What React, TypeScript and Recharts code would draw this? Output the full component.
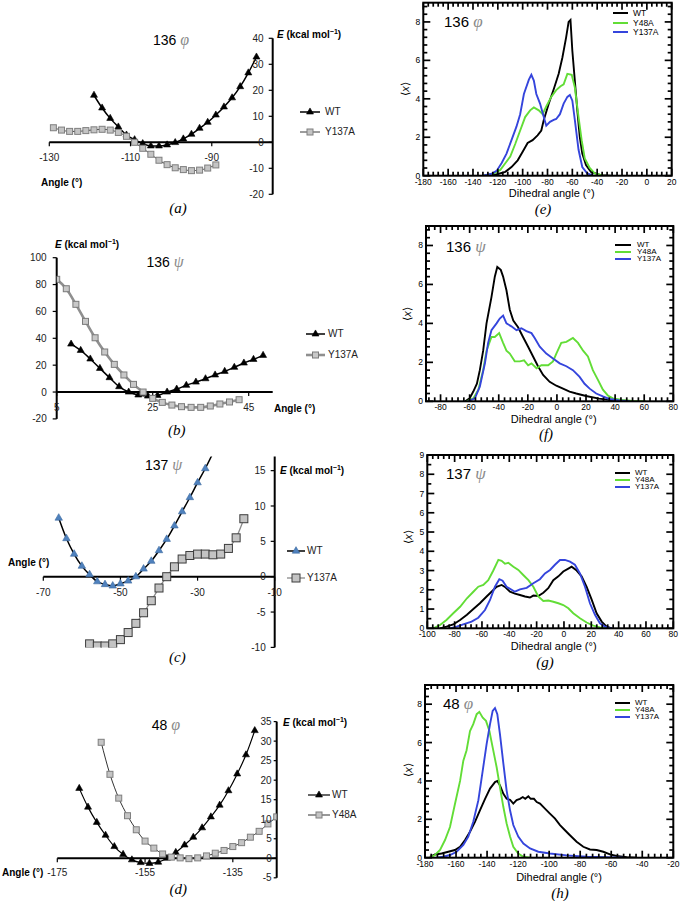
import React from 'react';
import { LineChart, Line, XAxis, YAxis, ReferenceLine, Legend } from 'recharts';

const FONT = '"Liberation Sans", Arial, Helvetica, sans-serif';
const SERIF = '"Liberation Serif", "Times New Roman", serif';
const GREEN = '#62dd36';
const BLUE = '#3545dc';

// ---- (a) 136 phi, energy scan (kcal/mol)
const aWtAngle = [-119, -117, -115, -113, -111, -109, -107, -105, -103, -101, -99, -97, -95, -93, -91, -89, -87, -85, -83, -81, -79];
const aWtEnergy = [18.1, 13.2, 9.2, 5.9, 2.8, 1.0, -0.5, -1.4, -1.4, -1.0, -0.1, 1.3, 3.1, 5.4, 7.7, 10.5, 13.6, 17.1, 21.4, 26.7, 32.8];
const aMutAngle = [-129, -127, -125, -123, -121, -119, -117, -115, -113, -111, -109, -107, -105, -103, -101, -99, -97, -95, -93, -91, -89];
const aMutEnergy = [5.6, 4.7, 4.2, 4.2, 4.5, 4.8, 5.0, 4.7, 3.8, 2.3, 0, -2.3, -4.6, -6.9, -8.6, -9.8, -10.5, -10.9, -10.7, -9.9, -8.7];
const aXTicks = [-130, -110, -90];
const aYTicks = [-20, -10, 0, 10, 20, 30, 40];

// ---- (b) 136 psi
const bWtAngle = [8, 10, 12, 14, 16, 18, 20, 22, 24, 26, 28, 30, 32, 34, 36, 38, 40, 42, 44, 46, 48];
const bWtEnergy = [35.7, 31, 24.6, 17.6, 10.7, 4.0, 0, -2.2, -3.0, -2.5, 0, 2.2, 5.0, 7.4, 9.9, 12.7, 15.4, 18.4, 21.6, 24.3, 27.3];
const bMutAngle = [5, 7, 9, 11, 13, 15, 17, 19, 21, 23, 25, 27, 29, 31, 33, 35, 37, 39, 41, 43];
const bMutEnergy = [83.9, 76.9, 65.3, 52.6, 40.4, 29.8, 20.6, 12.7, 5.7, 0, -4.7, -7.7, -9.7, -10.9, -11.4, -11.4, -10.4, -8.9, -7.4, -5.7];
const bXTicks = [5, 25, 45];
const bYTicks = [-20, 0, 20, 40, 60, 80, 100];

// ---- (c) 137 psi
const cWtAngle = [-66, -64, -62, -60, -58, -56, -54, -52, -50, -48, -46, -44, -42, -40, -38, -36, -34, -32, -30, -28, -26];
const cWtEnergy = [8.3, 5.4, 3.2, 1.5, 0.3, -0.7, -1.1, -1.3, -1.0, -0.6, 0, 1.1, 2.2, 3.7, 5.3, 7.2, 9.2, 11.2, 13.3, 15.3, 17.5];
const cMutAngle = [-58, -56, -54, -52, -50, -48, -46, -44, -42, -40, -38, -36, -34, -32, -30, -28, -26, -24, -22, -20, -18];
const cMutEnergy = [-9.5, -9.8, -9.8, -9.5, -8.9, -7.9, -6.6, -5.1, -3.4, -1.6, 0, 1.4, 2.5, 3.0, 3.2, 3.2, 3.1, 3.2, 4.0, 5.5, 8.2];
const cXTicks = [-70, -50, -30, -10];
const cYTicks = [-10, -5, 0, 5, 10, 15];

// ---- (d) 48 phi
const dWtAngle = [-170, -168, -166, -164, -162, -160, -158, -156, -154, -152, -150, -148, -146, -144, -142, -140, -138, -136, -134, -132, -130];
const dWtEnergy = [17.9, 13.1, 9.2, 5.9, 3.0, 1.0, -0.4, -1.1, -1.3, -1.0, 0, 1.5, 3.4, 5.4, 7.8, 10.6, 13.6, 17.3, 21.6, 26.5, 32.7];
const dMutAngle = [-165, -163, -161, -159, -157, -155, -153, -151, -149, -147, -145, -143, -141, -139, -137, -135, -133, -131, -129, -127, -125];
const dMutEnergy = [29.7, 21.5, 15.4, 10.9, 7.3, 4.4, 2.6, 1.1, 0.3, 0.1, -0.1, 0.1, 0.6, 1.3, 2.0, 3.0, 4.0, 5.4, 6.9, 8.8, 10.6];
const dXTicks = [-175, -155, -135];
const dYTicks = [-5, 0, 5, 10, 15, 20, 25, 30, 35];

// ---- (e) 136 phi distributions
const eWtX = [-130, -122, -114, -109, -104, -100, -96, -92, -88, -85, -83, -79, -75, -71, -68, -65, -63, -61.5, -60, -58, -56, -54, -52, -49, -45, -37, -29];
const eWtY = [0, 0.05, 0.2, 0.45, 0.8, 1.25, 1.7, 1.85, 2.1, 2.35, 2.9, 3.75, 4.5, 5.3, 6.15, 7.2, 8.0, 8.1, 6.5, 4.95, 3.4, 2.0, 1.15, 0.55, 0.2, 0.03, 0];
const eY48X = [-132, -124, -118, -114, -110, -106, -102, -98, -94, -91, -87, -84, -81, -77, -73, -69.5, -67, -64, -60.5, -58, -55, -52.5, -50, -46, -42, -35];
const eY48Y = [0, 0.1, 0.3, 0.65, 1.0, 1.65, 2.35, 3.05, 3.4, 3.55, 3.4, 3.2, 3.6, 4.1, 4.45, 4.65, 4.75, 5.3, 5.25, 4.6, 3.05, 1.85, 0.9, 0.4, 0.12, 0];
const eY137X = [-132, -125, -121, -117, -113, -109, -105, -102, -99, -95, -93, -91, -89, -86, -83, -81, -78, -75, -73, -70, -67, -64, -62, -60, -58, -55, -52, -48, -43];
const eY137Y = [0, 0.1, 0.25, 0.65, 1.15, 1.85, 2.55, 3.2, 4.25, 5.0, 5.25, 4.95, 4.25, 3.75, 3.05, 2.6, 2.8, 2.9, 2.95, 3.2, 3.75, 4.1, 4.2, 3.9, 2.9, 1.35, 0.45, 0.12, 0];
const eXMajor = [-180, -160, -140, -120, -100, -80, -60, -40, -20, 0, 20];
const eYMajor = [0, 2, 4, 6, 8];

// ---- (f) 136 psi distributions
const fWtX = [-63, -60, -57.5, -55, -53, -50.7, -48.4, -45, -42.7, -41, -38.6, -37, -34.7, -32.4, -30, -26.7, -23.3, -19.8, -16.4, -13, -9.5, -5, -0.4, 4.2, 8.7, 13.3, 20, 29, 38.5, 45];
const fWtY = [0, 0.15, 0.5, 0.9, 1.6, 2.6, 4.0, 5.35, 6.4, 6.9, 6.75, 6.4, 5.7, 4.7, 4.15, 3.8, 3.3, 2.8, 2.3, 1.8, 1.35, 1.0, 0.8, 0.65, 0.5, 0.4, 0.27, 0.14, 0.05, 0];
const fY48X = [-62, -57.5, -54, -50.7, -48.4, -45, -42.7, -39.7, -37, -34.7, -32.4, -29, -25.5, -22.6, -19.8, -17.5, -14, -10.7, -6, -2.7, -0.4, 3, 6.5, 11, 14.5, 18, 21.3, 24.7, 28.2, 31.6, 35, 38.5, 45, 52, 61];
const fY48Y = [0, 0.15, 0.6, 1.6, 2.6, 3.3, 3.3, 3.5, 3.0, 2.6, 2.45, 2.05, 2.05, 2.1, 1.85, 1.95, 1.7, 1.85, 1.85, 2.05, 2.45, 3.0, 3.05, 3.25, 3.0, 2.6, 2.3, 1.6, 1.1, 0.6, 0.3, 0.15, 0.07, 0.02, 0];
const fY137X = [-61, -56.4, -53, -49.5, -47.3, -45, -41.5, -39.3, -37, -34.7, -31.3, -27.8, -24.4, -21, -17.5, -15.3, -11.8, -7.3, -2.7, 1.9, 6.5, 11, 15.6, 19, 22.5, 27, 31.6, 36, 43, 50];
const fY137Y = [0, 0.15, 0.75, 1.95, 3.0, 3.65, 4.0, 4.25, 4.4, 4.0, 3.85, 3.65, 3.75, 3.6, 3.5, 3.25, 2.8, 2.45, 2.2, 1.95, 1.8, 1.6, 1.25, 0.9, 0.65, 0.4, 0.25, 0.12, 0.04, 0];
const fXMajor = [-80, -60, -40, -20, 0, 20, 40, 60, 80];
const fYMajor = [0, 2, 4, 6, 8];

// ---- (g) 137 psi distributions
const gWtX = [-90.7, -86, -81, -76, -71, -66.3, -61.5, -56.6, -53, -49.3, -45.6, -43.2, -39.5, -35.9, -32.2, -28.5, -24.9, -22.4, -18.8, -15.1, -11.5, -7.8, -4.1, -0.5, 3.2, 5.6, 9.3, 12.9, 16.6, 20.2, 23.9, 27.6, 31.2, 34.9];
const gWtY = [0, 0.09, 0.2, 0.43, 0.7, 1.0, 1.3, 1.65, 1.9, 2.15, 2.25, 2.15, 1.9, 1.8, 1.73, 1.65, 1.6, 1.7, 1.68, 1.85, 2.08, 2.5, 2.7, 2.95, 3.1, 3.2, 3.0, 2.7, 2.15, 1.5, 0.78, 0.35, 0.09, 0];
const gY48X = [-95.6, -90.7, -86, -81, -76, -71, -66.3, -62.7, -59, -55.4, -51.7, -48, -45.6, -43.2, -40.7, -37, -33.4, -29.8, -26, -22.4, -18.8, -15.1, -11.5, -7.8, -4.1, -0.5, 3.2, 6.8, 11.7, 16.6, 21.5, 26.3, 31];
const gY48Y = [0, 0.17, 0.43, 0.78, 1.12, 1.56, 1.9, 2.16, 2.25, 2.5, 3.0, 3.55, 3.5, 3.35, 3.4, 3.2, 3.03, 2.77, 2.5, 2.16, 1.65, 1.42, 1.44, 1.38, 1.3, 1.21, 1.04, 0.78, 0.52, 0.3, 0.14, 0.05, 0];
const gY137X = [-83.4, -78.5, -73.7, -67.6, -62.7, -57.8, -54.1, -50.5, -47.3, -44.9, -42, -38.3, -35.9, -32.2, -27.3, -22.4, -17.6, -13.9, -10.2, -6.6, -2.9, 0.7, 4.4, 8, 11.7, 15.4, 19, 22.7, 26.3, 30, 35];
const gY137Y = [0, 0.09, 0.2, 0.35, 0.55, 0.95, 1.47, 2.16, 2.55, 2.47, 2.16, 2.0, 1.9, 2.02, 2.1, 2.34, 2.55, 2.85, 3.03, 3.3, 3.55, 3.55, 3.46, 3.3, 2.85, 2.16, 1.3, 0.7, 0.26, 0.09, 0];
const gXMajor = [-100, -80, -60, -40, -20, 0, 20, 40, 60, 80];
const gYMajor = [0, 1, 2, 3, 4, 5, 6, 7, 8, 9];

// ---- (h) 48 phi distributions
const hWtX = [-176.8, -173.6, -169.3, -165, -160.7, -157.4, -154.2, -151, -147.8, -144.6, -141.3, -138.1, -134.9, -133.4, -131.7, -129.5, -127.4, -125.2, -123.1, -121, -118.8, -117, -115.4, -113.4, -111.9, -109.8, -108, -105.9, -102.7, -99.5, -96.2, -93, -89.8, -86.6, -82.3, -78, -73.7, -69.4, -65.1, -60.8, -56.5, -50, -43.6];
const hWtY = [0.05, 0.17, 0.22, 0.31, 0.4, 0.57, 0.92, 1.35, 1.87, 2.47, 3.07, 3.6, 3.94, 4.0, 3.77, 3.33, 3.07, 3.02, 2.82, 3.0, 3.07, 3.16, 3.07, 3.2, 3.07, 3.07, 2.9, 2.82, 2.56, 2.3, 2.04, 1.7, 1.43, 1.17, 0.83, 0.57, 0.43, 0.4, 0.31, 0.17, 0.09, 0.02, 0];
const hY48X = [-176.8, -173.6, -170.3, -167.1, -163.9, -160.7, -157.4, -155.3, -153.2, -151, -148.9, -146.7, -145, -142.8, -140.7, -138.5, -136.4, -133.8, -131.7, -129.5, -127.4, -125.2, -123.1, -119.9, -116.6, -112.3];
const hY48Y = [0, 0.14, 0.4, 0.92, 1.6, 2.8, 4.0, 5.06, 5.6, 6.6, 6.96, 7.48, 7.6, 7.3, 7.13, 6.6, 5.75, 4.7, 3.68, 2.64, 1.78, 1.1, 0.57, 0.22, 0.05, 0];
const hY137X = [-172.5, -168.2, -163.9, -159.6, -155.3, -152.1, -148.9, -145.6, -142.8, -140.3, -138.1, -136.4, -134.9, -133.4, -131.7, -129.5, -127.4, -125.2, -123.1, -119.9, -116.6, -112.3, -107, -99.5, -88.7, -75.8, -63, -52];
const hY137Y = [0, 0.05, 0.14, 0.31, 0.66, 1.1, 1.87, 3.0, 4.54, 5.92, 6.96, 7.65, 7.8, 7.48, 6.44, 4.9, 3.5, 2.47, 1.7, 1.1, 0.74, 0.48, 0.31, 0.22, 0.12, 0.05, 0.02, 0];
const hXMajor = [-180, -160, -140, -120, -100, -80, -60, -40, -20];
const hYMajor = [0, 2, 4, 6, 8];

type Pt = { x: number; y: number };
const pairs = (xs: number[], ys: number[]): Pt[] => xs.map((x, i) => ({ x, y: ys[i] }));

type Rect = { x: number; y: number; w: number; h: number };
type Plot = { l: number; r: number; t: number; b: number };
type MarkerKind = 'triangle' | 'square';

type EnergySeries = {
  name: string; pts: Pt[]; stroke: string; width: number;
  marker: MarkerKind; fill: string; edge: string; size: number;
};
type EnergyPanel = {
  region: Rect; plot: Plot;
  xDomain: [number, number]; xTicks: number[]; xLabelGap: number;
  yDomain: [number, number]; yTicks: number[]; ySide: 'left' | 'right'; yTickSize: number; yTickGap: number;
  series: EnergySeries[];
  legend: { x: number; y: number; gap: number; line: number; text: number };
};

const wtBlack = (pts: Pt[], width = 1.5): EnergySeries => ({
  name: 'WT', pts, stroke: '#000', width, marker: 'triangle', fill: '#000', edge: '#000', size: 7,
});

const energyPanels: EnergyPanel[] = [
  {
    region: { x: 0, y: 0, w: 340, h: 215 }, plot: { l: 49.3, r: 272.7, t: 38.3, b: 194.3 },
    xDomain: [-130, -75], xTicks: aXTicks, xLabelGap: 8,
    yDomain: [-20, 40], yTicks: aYTicks, ySide: 'right', yTickSize: 4, yTickGap: 5,
    series: [
      wtBlack(pairs(aWtAngle, aWtEnergy)),
      { name: 'Y137A', pts: pairs(aMutAngle, aMutEnergy), stroke: '#3a3a3a', width: 1, marker: 'square', fill: '#c4c4c4', edge: '#7f7f7f', size: 6 },
    ],
    legend: { x: 300, y: 112.3, gap: 19.4, line: 20, text: 25 },
  },
  {
    region: { x: 0, y: 215, w: 340, h: 225 }, plot: { l: 56.7, r: 272.7, t: 257.7, b: 418.9 },
    xDomain: [5, 50], xTicks: bXTicks, xLabelGap: 8,
    yDomain: [-20, 100], yTicks: bYTicks, ySide: 'left', yTickSize: 4, yTickGap: 6,
    series: [
      wtBlack(pairs(bWtAngle, bWtEnergy)),
      { name: 'Y137A', pts: pairs(bMutAngle, bMutEnergy), stroke: '#8f8f8f', width: 2.6, marker: 'square', fill: '#c8c8c8', edge: '#7a7a7a', size: 6 },
    ],
    legend: { x: 306, y: 334, gap: 21, line: 19, text: 22 },
  },
  {
    region: { x: 0, y: 440, w: 340, h: 230 }, plot: { l: 43.3, r: 274.7, t: 456.5, b: 647.4 },
    xDomain: [-70, -10], xTicks: cXTicks, xLabelGap: 8,
    yDomain: [-10, 17], yTicks: cYTicks, ySide: 'right', yTickSize: 4, yTickGap: 5,
    series: [
      { name: 'WT', pts: pairs(cWtAngle, cWtEnergy), stroke: '#000', width: 1.5, marker: 'triangle', fill: '#4f81bd', edge: '#3d6aa0', size: 7.5 },
      { name: 'Y137A', pts: pairs(cMutAngle, cMutEnergy), stroke: '#8a8a8a', width: 1.3, marker: 'square', fill: '#c3c3c3', edge: '#3c3c3c', size: 8 },
    ],
    legend: { x: 287, y: 551, gap: 26.7, line: 18, text: 20 },
  },
  {
    region: { x: 0, y: 670, w: 340, h: 231 }, plot: { l: 57.3, r: 276.7, t: 721.6, b: 877.8 },
    xDomain: [-175, -125], xTicks: dXTicks, xLabelGap: 7,
    yDomain: [-5, 35], yTicks: dYTicks, ySide: 'right', yTickSize: 3, yTickGap: 2,
    series: [
      wtBlack(pairs(dWtAngle, dWtEnergy), 1.2),
      { name: 'Y48A', pts: pairs(dMutAngle, dMutEnergy), stroke: '#333', width: 1, marker: 'square', fill: '#c4c4c4', edge: '#7f7f7f', size: 6 },
    ],
    legend: { x: 308, y: 795, gap: 20, line: 22, text: 24 },
  },
];

type DensitySeries = { name: string; pts: Pt[]; color: string };
type DensityPanel = {
  region: Rect; plot: Plot;
  xDomain: [number, number]; xMajor: number[]; xMinor: number;
  yDomain: [number, number]; yMajor: number[]; yMinor: number;
  series: DensitySeries[];
  legend: { x: number; y: number; gap: number; line: number; text: number; font: number };
};

const trio = (wt: Pt[], y48: Pt[], y137: Pt[]): DensitySeries[] => [
  { name: 'WT', pts: wt, color: '#000' },
  { name: 'Y48A', pts: y48, color: GREEN },
  { name: 'Y137A', pts: y137, color: BLUE },
];

const densityPanels: DensityPanel[] = [
  {
    region: { x: 340, y: 0, w: 342, h: 215 }, plot: { l: 423.3, r: 671.7, t: 2.7, b: 175.7 },
    xDomain: [-180, 20], xMajor: eXMajor, xMinor: 4, yDomain: [0, 9], yMajor: eYMajor, yMinor: 0.4,
    series: trio(pairs(eWtX, eWtY), pairs(eY48X, eY48Y), pairs(eY137X, eY137Y)),
    legend: { x: 613, y: 13.3, gap: 9.5, line: 15, text: 20, font: 8.5 },
  },
  {
    region: { x: 340, y: 215, w: 342, h: 225 }, plot: { l: 426, r: 673.3, t: 226, b: 401.3 },
    xDomain: [-90, 80], xMajor: fXMajor, xMinor: 4, yDomain: [0, 9], yMajor: fYMajor, yMinor: 0.4,
    series: trio(pairs(fWtX, fWtY), pairs(fY48X, fY48Y), pairs(fY137X, fY137Y)),
    legend: { x: 615, y: 245.3, gap: 6.9, line: 16, text: 22, font: 8 },
  },
  {
    region: { x: 340, y: 440, w: 342, h: 230 }, plot: { l: 427.3, r: 673.3, t: 455, b: 628.3 },
    xDomain: [-100, 80], xMajor: gXMajor, xMinor: 4, yDomain: [0, 9], yMajor: gYMajor, yMinor: 0.5,
    series: trio(pairs(gWtX, gWtY), pairs(gY48X, gY48Y), pairs(gY137X, gY137Y)),
    legend: { x: 615, y: 473.3, gap: 7, line: 15, text: 20, font: 8 },
  },
  {
    region: { x: 340, y: 670, w: 342, h: 231 }, plot: { l: 425, r: 673.3, t: 685, b: 857.7 },
    xDomain: [-180, -20], xMajor: hXMajor, xMinor: 4, yDomain: [0, 9], yMajor: hYMajor, yMinor: 0.4,
    series: trio(pairs(hWtX, hWtY), pairs(hY48X, hY48Y), pairs(hY137X, hY137Y)),
    legend: { x: 615, y: 703.3, gap: 7, line: 15, text: 20, font: 8 },
  },
];

function Marker({ kind, cx, cy, size, fill, edge }: { kind: MarkerKind; cx: number; cy: number; size: number; fill: string; edge: string }) {
  if (kind === 'triangle') {
    const h = size * 0.87;
    const pts = `${cx},${cy - (2 * h) / 3} ${cx + size / 2},${cy + h / 3} ${cx - size / 2},${cy + h / 3}`;
    return <polygon points={pts} fill={fill} stroke={edge} strokeWidth={0.6} />;
  }
  return <rect x={cx - size / 2} y={cy - size / 2} width={size} height={size} fill={fill} stroke={edge} strokeWidth={1} />;
}

// legend rows follow the series order (the library sorts its payload by name)
function EnergyLegend({ payload, panel }: any) {
  const p: EnergyPanel = panel;
  const shown = new Set((payload || []).map((e: any) => e.value));
  return (
    <div style={{ fontFamily: FONT, fontSize: 10, color: '#222', lineHeight: 1 }}>
      {p.series.filter((s) => shown.has(s.name)).map((s) => (
        <div key={s.name} style={{ display: 'flex', alignItems: 'center', height: p.legend.gap }}>
          <svg width={p.legend.line} height={10} style={{ overflow: 'visible', flex: 'none' }}>
            <line x1={0} y1={5} x2={p.legend.line} y2={5} stroke={s.stroke} strokeWidth={s.width} />
            <Marker kind={s.marker} cx={p.legend.line / 2} cy={5} size={s.size} fill={s.fill} edge={s.edge} />
          </svg>
          <span style={{ marginLeft: p.legend.text - p.legend.line }}>{s.name}</span>
        </div>
      ))}
    </div>
  );
}

function EnergyChart({ p }: { p: EnergyPanel }) {
  const yWidth = p.ySide === 'left' ? 40 : 30;
  const margin = {
    left: p.plot.l - p.region.x - (p.ySide === 'left' ? yWidth : 0),
    right: p.region.x + p.region.w - p.plot.r,
    top: p.plot.t - p.region.y,
    bottom: p.region.y + p.region.h - p.plot.b,
  };
  const unitsPerPx = (p.yDomain[1] - p.yDomain[0]) / (p.plot.b - p.plot.t);
  const drop = 4 * unitsPerPx;
  return (
    <div style={{ position: 'absolute', left: p.region.x, top: p.region.y }}>
      <LineChart width={p.region.w} height={p.region.h} margin={margin}>
        <XAxis type="number" dataKey="x" domain={p.xDomain} allowDataOverflow hide />
        <YAxis
          type="number"
          domain={p.yDomain}
          ticks={p.yTicks}
          interval={0}
          allowDataOverflow
          orientation={p.ySide}
          mirror={p.ySide === 'right'}
          width={yWidth}
          axisLine={{ stroke: '#000', strokeWidth: 2 }}
          tickLine={{ stroke: '#000', strokeWidth: 1.2 }}
          tickSize={p.yTickSize}
          tickMargin={p.yTickGap}
          tick={{ fontSize: 10, fill: '#222', fontFamily: FONT }}
        />
        <ReferenceLine y={0} stroke="#000" strokeWidth={2} />
        {p.xTicks.map((t) => (
          <ReferenceLine
            key={t}
            segment={[{ x: t, y: 0 }, { x: t, y: -drop }]}
            stroke="#000"
            strokeWidth={1.2}
            label={{ value: String(t), position: 'bottom', offset: p.xLabelGap, fontSize: 10, fill: '#222', fontFamily: FONT }}
          />
        ))}
        {p.series.map((s) => (
          <Line
            key={s.name}
            name={s.name}
            data={s.pts}
            dataKey="y"
            type="monotone"
            stroke={s.stroke}
            strokeWidth={s.width}
            isAnimationActive={false}
            dot={(d: any) =>
              d.payload.y > p.yDomain[1] ? (
                <g key={d.index} />
              ) : (
                <Marker key={d.index} kind={s.marker} cx={d.cx} cy={d.cy} size={s.size} fill={s.fill} edge={s.edge} />
              )
            }
          />
        ))}
        <Legend
          layout="vertical"
          align="center"
          verticalAlign="middle"
          wrapperStyle={{ left: p.legend.x - p.region.x, top: p.legend.y - p.legend.gap / 2 - p.region.y, width: 80 }}
          content={(props: any) => <EnergyLegend {...props} panel={p} />}
        />
      </LineChart>
    </div>
  );
}

// tick positions between the labelled ones, anchored on the first major tick
function tickSet(domain: [number, number], majors: number[], step: number) {
  const base = majors[0];
  const first = Math.ceil((domain[0] - base) / step - 1e-9);
  const last = Math.floor((domain[1] - base) / step + 1e-9);
  const out: number[] = [];
  for (let i = first; i <= last; i++) out.push(Math.round((base + i * step) * 1000) / 1000);
  return out;
}
const isMajor = (majors: number[], v: number) => majors.some((m) => Math.abs(m - v) < 1e-6);

function DensityLegend({ payload, panel }: any) {
  const p: DensityPanel = panel;
  const shown = new Set((payload || []).map((e: any) => e.value));
  return (
    <div style={{ fontFamily: FONT, fontSize: p.legend.font, color: '#000', lineHeight: 1 }}>
      {p.series.filter((s) => shown.has(s.name)).map((s) => (
        <div key={s.name} style={{ display: 'flex', alignItems: 'center', height: p.legend.gap }}>
          <svg width={p.legend.line} height={4} style={{ flex: 'none' }}>
            <line x1={0} y1={2} x2={p.legend.line} y2={2} stroke={s.color} strokeWidth={2} />
          </svg>
          <span style={{ marginLeft: p.legend.text - p.legend.line }}>{s.name}</span>
        </div>
      ))}
    </div>
  );
}

// Grace-style closed frame with inward ticks on all four sides (axis decoration only)
function BoxFrame({ p }: { p: DensityPanel }) {
  const { l, r, t, b } = p.plot;
  const [x0, x1] = p.xDomain;
  const [y0, y1] = p.yDomain;
  const sx = (v: number) => l + ((v - x0) / (x1 - x0)) * (r - l);
  const sy = (v: number) => b - ((v - y0) / (y1 - y0)) * (b - t);
  const xs = tickSet(p.xDomain, p.xMajor, p.xMinor);
  const ys = tickSet(p.yDomain, p.yMajor, p.yMinor);
  const len = (major: boolean) => (major ? 7 : 4);
  return (
    <svg width={682} height={901} style={{ position: 'absolute', left: 0, top: 0, pointerEvents: 'none', overflow: 'visible' }}>
      <g stroke="#000" strokeWidth={1.7} fill="none">
        {xs.map((v) => {
          const L = len(isMajor(p.xMajor, v));
          const x = sx(v);
          return (
            <g key={`x${v}`}>
              <line x1={x} y1={b} x2={x} y2={b - L} />
              <line x1={x} y1={t} x2={x} y2={t + L} />
            </g>
          );
        })}
        {ys.map((v) => {
          const L = len(isMajor(p.yMajor, v));
          const y = sy(v);
          return (
            <g key={`y${v}`}>
              <line x1={l} y1={y} x2={l + L} y2={y} />
              <line x1={r} y1={y} x2={r - L} y2={y} />
            </g>
          );
        })}
        <rect x={l} y={t} width={r - l} height={b - t} strokeWidth={2} />
      </g>
    </svg>
  );
}

function DensityChart({ p }: { p: DensityPanel }) {
  const axis = { bottom: 30, left: 25 };
  const margin = {
    left: p.plot.l - p.region.x - axis.left,
    right: p.region.x + p.region.w - p.plot.r,
    top: p.plot.t - p.region.y,
    bottom: p.region.y + p.region.h - p.plot.b - axis.bottom,
  };
  return (
    <div style={{ position: 'absolute', left: p.region.x, top: p.region.y }}>
      <LineChart width={p.region.w} height={p.region.h} margin={margin}>
        <XAxis type="number" dataKey="x" domain={p.xDomain} allowDataOverflow ticks={p.xMajor} interval={0} height={axis.bottom}
          tickSize={0} tickMargin={3} tickLine={false} axisLine={false} tick={{ fontSize: 8.5, fill: '#000', fontFamily: FONT }} />
        <YAxis type="number" domain={p.yDomain} allowDataOverflow ticks={p.yMajor} interval={0} width={axis.left}
          tickSize={0} tickMargin={3} tickLine={false} axisLine={false} tick={{ fontSize: 8.5, fill: '#000', fontFamily: FONT }} />
        {p.series.map((s) => (
          <Line key={s.name} name={s.name} data={s.pts} dataKey="y" type="linear" stroke={s.color} strokeWidth={1.9}
            dot={false} isAnimationActive={false} />
        ))}
        <Legend
          layout="vertical"
          align="center"
          verticalAlign="middle"
          wrapperStyle={{ left: p.legend.x - p.region.x, top: p.legend.y - p.legend.gap / 2 - p.region.y, width: 60 }}
          content={(props: any) => <DensityLegend {...props} panel={p} />}
        />
      </LineChart>
    </div>
  );
}

function Txt({ x, y, a = 'start', rot, style, children }: { x: number; y: number; a?: 'start' | 'middle' | 'end'; rot?: number; style?: React.CSSProperties; children: React.ReactNode }) {
  const tx = a === 'middle' ? '-50%' : a === 'end' ? '-100%' : '0';
  return (
    <div style={{ position: 'absolute', left: x, top: y, transform: `translate(${tx}, -50%)${rot ? ` rotate(${rot}deg)` : ''}`, whiteSpace: 'nowrap', lineHeight: 1, ...style }}>
      {children}
    </div>
  );
}

const greek = (c: string, size = 16) => (
  <span style={{ fontFamily: SERIF, fontStyle: 'italic', color: '#8a8a8a', fontSize: size }}>{c}</span>
);

const Title = ({ x, y, num, g, a = 'middle', size = 14 }: { x: number; y: number; num: string; g: string; a?: 'start' | 'middle'; size?: number }) => (
  <Txt x={x} y={y} a={a} style={{ fontSize: size, fontFamily: FONT }}>
    {num} {greek(g, size + 2)}
  </Txt>
);

const EnergyLabel = ({ x, y }: { x: number; y: number }) => (
  <Txt x={x} y={y} style={{ fontSize: 10, fontWeight: 'bold', fontFamily: FONT }}>
    <i>E</i> (kcal mol<span style={{ fontSize: 7, position: 'relative', top: -4 }}>−1</span>)
  </Txt>
);

const AngleLabel = ({ x, y }: { x: number; y: number }) => (
  <Txt x={x} y={y} style={{ fontSize: 10, fontWeight: 'bold', fontFamily: FONT }}>Angle (°)</Txt>
);

const Caption = ({ x, y, c }: { x: number; y: number; c: string }) => (
  <Txt x={x} y={y} a="middle" style={{ fontSize: 15, fontStyle: 'italic', fontFamily: SERIF }}>({c})</Txt>
);

const DihedralLabel = ({ x, y }: { x: number; y: number }) => (
  <Txt x={x} y={y} a="middle" style={{ fontSize: 11, fontFamily: FONT }}>Dihedral angle (°)</Txt>
);

const AvgLabel = ({ x, y }: { x: number; y: number }) => (
  <Txt x={x} y={y} a="middle" rot={-90} style={{ fontSize: 11, fontFamily: FONT }}>
    ⟨<i>x</i>⟩
  </Txt>
);

export default function App() {
  return (
    <div style={{ position: 'absolute', left: 0, top: 0, width: 682, height: 901, background: '#fff', overflow: 'hidden', fontFamily: FONT, color: '#000' }}>
      {energyPanels.map((p, i) => <EnergyChart key={i} p={p} />)}
      {densityPanels.map((p, i) => <DensityChart key={i} p={p} />)}
      {densityPanels.map((p, i) => <BoxFrame key={`f${i}`} p={p} />)}

      <Title x={171} y={40} num="136" g="φ" />
      <EnergyLabel x={277} y={35} />
      <AngleLabel x={41} y={183} />
      <Caption x={178} y={208} c="a" />

      <Title x={165} y={261.7} num="136" g="ψ" />
      <EnergyLabel x={55} y={245} />
      <AngleLabel x={274} y={409} />
      <Caption x={176.7} y={430} c="b" />

      <Title x={163.5} y={465} num="137" g="ψ" />
      <EnergyLabel x={280} y={471} />
      <AngleLabel x={8} y={562.7} />
      <Caption x={177.3} y={657} c="c" />

      <Title x={166} y={725} num="48" g="φ" />
      <EnergyLabel x={283} y={723} />
      <AngleLabel x={2} y={873} />
      <Caption x={178.3} y={889} c="d" />

      <Title x={444} y={20.7} num="136" g="φ" a="start" size={15} />
      <DihedralLabel x={551.7} y={192.7} />
      <AvgLabel x={405} y={89} />
      <Caption x={543} y={209} c="e" />

      <Title x={446} y={246} num="136" g="ψ" a="start" size={15} />
      <DihedralLabel x={553.7} y={419.3} />
      <AvgLabel x={407} y={314} />
      <Caption x={546} y={434} c="f" />

      <Title x={446} y={473.3} num="137" g="ψ" a="start" size={15} />
      <DihedralLabel x={553.7} y={646} />
      <AvgLabel x={408} y={537} />
      <Caption x={545} y={662} c="g" />

      <Title x={443} y={703} num="48" g="φ" a="start" size={15} />
      <DihedralLabel x={559} y={876.7} />
      <AvgLabel x={408} y={770} />
      <Caption x={560} y={893} c="h" />
    </div>
  );
}
